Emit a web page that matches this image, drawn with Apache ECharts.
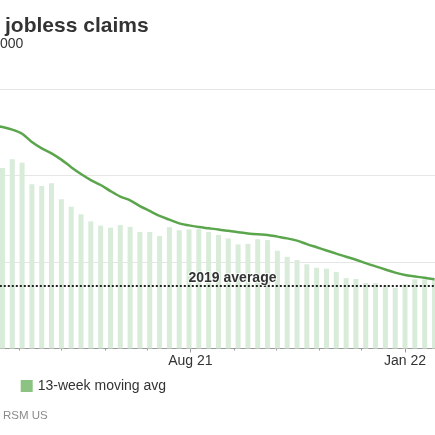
<!DOCTYPE html>
<html>
<head>
<meta charset="utf-8">
<title>jobless claims</title>
<script src="https://cdn.jsdelivr.net/npm/echarts@6/dist/echarts.min.js"></script>
<style>
    html, body { margin: 0; padding: 0; width: 435px; height: 435px; overflow: hidden; background: #fff; }
    /* the chart is wider than the window: its left edge (y axis) is cut off, as in the picture */
    #main { position: absolute; left: -40px; top: 0; width: 495px; height: 435px; }
</style>
</head>
<body>
<div id="main"></div>
<script>
// week ending dates
var weeks = ['2021-03-13', '2021-03-20', '2021-03-27', '2021-04-03', '2021-04-10', '2021-04-17', '2021-04-24',
    '2021-05-01', '2021-05-08', '2021-05-15', '2021-05-22', '2021-05-29', '2021-06-05', '2021-06-12',
    '2021-06-19', '2021-06-26', '2021-07-03', '2021-07-10', '2021-07-17', '2021-07-24', '2021-07-31',
    '2021-08-07', '2021-08-14', '2021-08-21', '2021-08-28', '2021-09-04', '2021-09-11', '2021-09-18',
    '2021-09-25', '2021-10-02', '2021-10-09', '2021-10-16', '2021-10-23', '2021-10-30', '2021-11-06',
    '2021-11-13', '2021-11-20', '2021-11-27', '2021-12-04', '2021-12-11', '2021-12-18', '2021-12-25',
    '2022-01-01', '2022-01-08', '2022-01-15', '2022-01-22'];
// weekly claims, 000
var claims = [null, 626, 656, 644, 570, 564, 573, 518, 492, 466, 441, 426, 419, 428, 422, 404,
    404, 390, 421, 410, 413, 414, 404, 394, 382, 361, 363, 379, 376, 339, 318, 307, 292, 280, 277,
    265, 244, 241, 227, 227, 220, 211, 222, 240, 240, 243];
// 13-week moving average, 000
var movingAvg = [776, 768, 759, 745, 716, 694, 677, 655, 629, 605, 584, 567, 546, 527, 514, 494,
    477, 460, 447, 434, 427, 421, 417, 413, 408, 403, 399, 396, 394, 388, 382, 374, 362, 351, 340,
    329, 318, 308, 296, 285, 274, 263, 255, 250, 245, 240];
var avg2019 = 218;
var avgLabelAt = '2021-08-31';

// month ticks and labelled ticks
var monthTicks = ['2021-04-01', '2021-05-01', '2021-06-01', '2021-07-01', '2021-08-01', '2021-09-01',
    '2021-10-01', '2021-11-01', '2021-12-01', '2022-01-01'];
var labelTicks = ['2021-08-01', '2022-01-01'];
var monthNames = ['Jan', 'Feb', 'Mar', 'Apr', 'May', 'Jun', 'Jul', 'Aug', 'Sep', 'Oct', 'Nov', 'Dec'];

function toTime(s){
    var p = s.split('-');
    return new Date(+p[0], +p[1] - 1, +p[2]).getTime();
}

var barData = [], lineData = [];
for(var i = 0; i < weeks.length; i++){
    barData.push([toTime(weeks[i]), claims[i]]);
    lineData.push([toTime(weeks[i]), movingAvg[i]]);
}

var font = "'Liberation Sans', Arial, sans-serif";
var xMin = toTime('2021-03-01'), xMax = toTime('2022-02-01');

var myChart = echarts.init(document.getElementById('main'));

var option = {
    animation: false,
    textStyle: { fontFamily: font },
    title: [
        {
            text: 'jobless claims', left: 45, top: 16, padding: 0,
            textStyle: { fontSize: 21, fontWeight: 'bold', color: '#333', fontFamily: font }
        },
        {
            text: '000', left: 40, top: 37, padding: 0,
            textStyle: { fontSize: 14, fontWeight: 'normal', color: '#333', fontFamily: font }
        },
        {
            text: 'RSM US', left: 43, top: 410, padding: 0,
            textStyle: { fontSize: 11.5, fontWeight: 'normal', color: '#8a8a8a', fontFamily: font }
        }
    ],
    legend: {
        left: 60.7, top: 379, padding: 0,
        itemWidth: 12, itemHeight: 12,
        icon: 'rect',
        textStyle: { fontSize: 14, color: '#333', fontFamily: font },
        data: [{ name: '13-week moving avg', itemStyle: { color: '#8cc382', borderWidth: 0 } }]
    },
    grid: { left: 15.8, right: 6.5, top: 89, bottom: 86.5, outerBoundsMode: 'none' },
    xAxis: [
        {
            // dates as timestamps on a value axis so that month ticks can be placed exactly
            type: 'value', min: xMin, max: xMax, scale: true,
            axisLine: { show: true, onZero: false, lineStyle: { color: '#999', width: 1 } },
            axisTick: { show: true, length: 2, lineStyle: { color: '#999' }, customValues: monthTicks.map(toTime) },
            axisLabel: { show: false },
            splitLine: { show: false }
        },
        {
            type: 'value', min: xMin, max: xMax, scale: true, position: 'bottom',
            axisLine: { show: false, onZero: false },
            axisTick: { show: true, length: 4, lineStyle: { color: '#999' }, customValues: labelTicks.map(toTime) },
            axisLabel: {
                show: true, margin: 6, fontSize: 14, color: '#333', fontFamily: font,
                customValues: labelTicks.map(toTime),
                formatter: function(v){
                    var d = new Date(v);
                    return monthNames[d.getMonth()] + ' ' + String(d.getFullYear()).slice(2);
                }
            },
            splitLine: { show: false }
        }
    ],
    yAxis: {
        type: 'value', min: 0, max: 900, interval: 300,
        axisLine: { show: false },
        axisTick: { show: false },
        axisLabel: { show: false },
        splitLine: { lineStyle: { color: '#e6e6e6', width: 1 } }
    },
    series: [
        {
            name: 'Initial claims',
            type: 'bar',
            xAxisIndex: 0,
            data: barData,
            barWidth: 5,
            itemStyle: { color: '#d8ecd9' },
            markLine: {
                silent: true,
                symbol: ['none', 'none'],
                label: { show: false },
                lineStyle: { type: [2, 2], width: 2, color: '#222' },
                data: [{ yAxis: avg2019 }]
            },
            markPoint: {
                silent: true,
                symbol: 'circle',
                symbolSize: 0,
                label: {
                    show: true, formatter: '2019 average', position: 'inside', offset: [0, -8],
                    fontSize: 14, fontWeight: 'bold', color: '#333', fontFamily: font,
                    textBorderColor: 'rgba(255,255,255,0.7)', textBorderWidth: 2
                },
                data: [{ coord: [toTime(avgLabelAt), avg2019] }]
            }
        },
        {
            name: '13-week moving avg',
            type: 'line',
            xAxisIndex: 0,
            data: lineData,
            showSymbol: false,
            symbol: 'none',
            smooth: 0.3,
            lineStyle: { color: '#5ba64d', width: 2.5 },
            itemStyle: { color: '#5ba64d' },
            z: 3
        }
    ]
};

myChart.setOption(option);
</script>
</body>
</html>
